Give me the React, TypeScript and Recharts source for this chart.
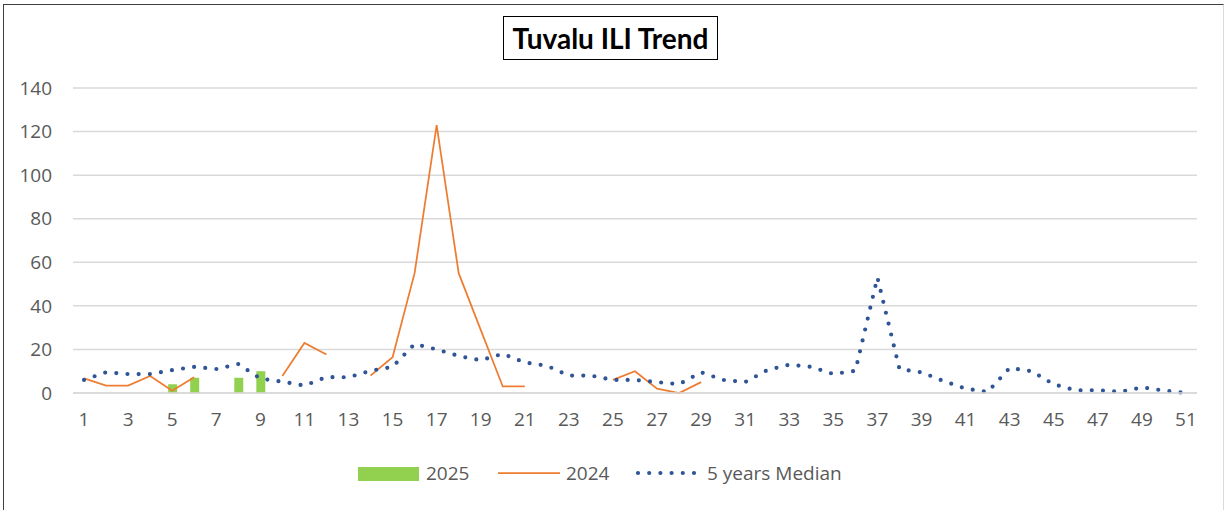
import React from 'react';
import { ComposedChart, Bar, Line, XAxis, YAxis, CartesianGrid } from 'recharts';

const weeks = [
  1, 2, 3, 4, 5, 6, 7, 8, 9, 10, 11, 12, 13, 14, 15, 16, 17, 18, 19, 20,
  21, 22, 23, 24, 25, 26, 27, 28, 29, 30, 31, 32, 33, 34, 35, 36, 37, 38, 39, 40,
  41, 42, 43, 44, 45, 46, 47, 48, 49, 50, 51,
];

const cases2025: (number | null)[] = [
  null, null, null, null, 4, 7, null, 7, 10, null,
  null, null, null, null, null, null, null, null, null, null,
  null, null, null, null, null, null, null, null, null, null,
  null, null, null, null, null, null, null, null, null, null,
  null, null, null, null, null, null, null, null, null, null,
  null,
];

const cases2024: (number | null)[] = [
  6.7, 3.4, 3.4, 7.8, 1, 7.2, null, null, null, 7.8,
  23, 17.7, null, 8, 16.4, 55, 123, 55, 29, 3,
  3, null, null, null, 6, 10, 2, 0, 5, null,
  null, null, null, null, null, null, null, null, null, null,
  null, null, null, null, null, null, null, null, null, null,
  null,
];

const median5y: number[] = [
  6, 9.5, 8.7, 8.7, 10.5, 12, 11, 13.3, 6.6, 5.2,
  3.4, 7.3, 7.2, 10.2, 12, 22.5, 20, 17, 15, 18,
  14, 12.5, 8, 8, 6, 6, 5, 4, 9.5, 6,
  5, 10.5, 13, 12, 8.7, 10.2, 53, 11, 9.5, 5.5,
  2, 0.5, 11.5, 10, 4, 1.2, 1.3, 0.5, 2.6, 1.1,
  0,
];

const yTicks = [0, 20, 40, 60, 80, 100, 120, 140];

const data = weeks.map((w, i) => ({
  week: w,
  y2025: cases2025[i],
  y2024: cases2024[i],
  median: median5y[i],
}));

const GREEN = '#92d050';
const ORANGE = '#ed7d31';
const BLUE = '#2f5597';
const GRAY_TEXT = '#595959';
const FONT = '"Open Sans", "Noto Sans", sans-serif';

export default function App() {
  return (
    <div style={{ position: 'absolute', left: 0, top: 0, width: 1226, height: 510, background: '#fff', overflow: 'hidden' }}>
      <div
        style={{
          position: 'absolute',
          left: 3,
          top: 4,
          width: 1219,
          height: 520,
          borderLeft: '1.5px solid #3f3f3f',
          borderTop: '1.5px solid #3f3f3f',
          borderRight: '1px solid #d9d9d9',
        }}
      />
      <div style={{ position: 'absolute', left: 0, top: 0 }}>
        <ComposedChart
          width={1226}
          height={510}
          data={data}
          margin={{ top: 88, right: 29, bottom: 67, left: 0 }}
        >
          <CartesianGrid vertical={false} stroke="#d9d9d9" strokeWidth={1.5} />
          <XAxis
            dataKey="week"
            type="category"
            interval={1}
            tickLine={false}
            axisLine={{ stroke: '#d9d9d9', strokeWidth: 1.5 }}
            tick={{ fill: GRAY_TEXT, fontSize: 19, fontFamily: FONT }}
            tickMargin={14}
            height={50}
          />
          <YAxis
            domain={[0, 140]}
            ticks={yTicks}
            interval={0}
            axisLine={false}
            tickLine={false}
            width={73}
            tick={{ fill: GRAY_TEXT, fontSize: 19, fontFamily: FONT }}
            tickMargin={15}
          />
          <Bar dataKey="y2025" fill={GREEN} barSize={9} isAnimationActive={false} />
          <Line
            dataKey="y2024"
            stroke={ORANGE}
            strokeWidth={1.75}
            dot={false}
            activeDot={false}
            connectNulls={false}
            isAnimationActive={false}
            type="linear"
          />
          <Line
            dataKey="median"
            stroke={BLUE}
            strokeWidth={4.2}
            strokeDasharray="0 11.2"
            strokeLinecap="round"
            dot={false}
            activeDot={false}
            isAnimationActive={false}
            type="linear"
          />
        </ComposedChart>
      </div>
      <div
        style={{
          position: 'absolute',
          left: 503,
          top: 16,
          width: 215,
          height: 44,
          boxSizing: 'border-box',
          border: '1.5px solid #000',
          display: 'flex',
          alignItems: 'center',
          justifyContent: 'center',
          fontFamily: 'Lato, "Open Sans", sans-serif',
          fontWeight: 700,
          fontSize: 28,
          color: '#000',
        }}
      >
        Tuvalu ILI Trend
      </div>
      <div
        style={{
          position: 'absolute',
          left: 0,
          top: 458,
          width: 1226,
          height: 30,
          fontFamily: FONT,
          fontSize: 19,
          color: GRAY_TEXT,
        }}
      >
        <div style={{ position: 'absolute', left: 358, top: 9, width: 61, height: 14, background: GREEN }} />
        <div style={{ position: 'absolute', left: 426, top: 0, lineHeight: '30px' }}>2025</div>
        <svg style={{ position: 'absolute', left: 497, top: 0 }} width={64} height={30}>
          <line x1={1} y1={15} x2={63} y2={15} stroke={ORANGE} strokeWidth={1.75} />
        </svg>
        <div style={{ position: 'absolute', left: 566, top: 0, lineHeight: '30px' }}>2024</div>
        <svg style={{ position: 'absolute', left: 634, top: 0 }} width={66} height={30}>
          <line x1={4} y1={15} x2={62} y2={15} stroke={BLUE} strokeWidth={4.2} strokeDasharray="0 11.2" strokeLinecap="round" />
        </svg>
        <div style={{ position: 'absolute', left: 707, top: 0, lineHeight: '30px' }}>5 years Median</div>
      </div>
    </div>
  );
}
